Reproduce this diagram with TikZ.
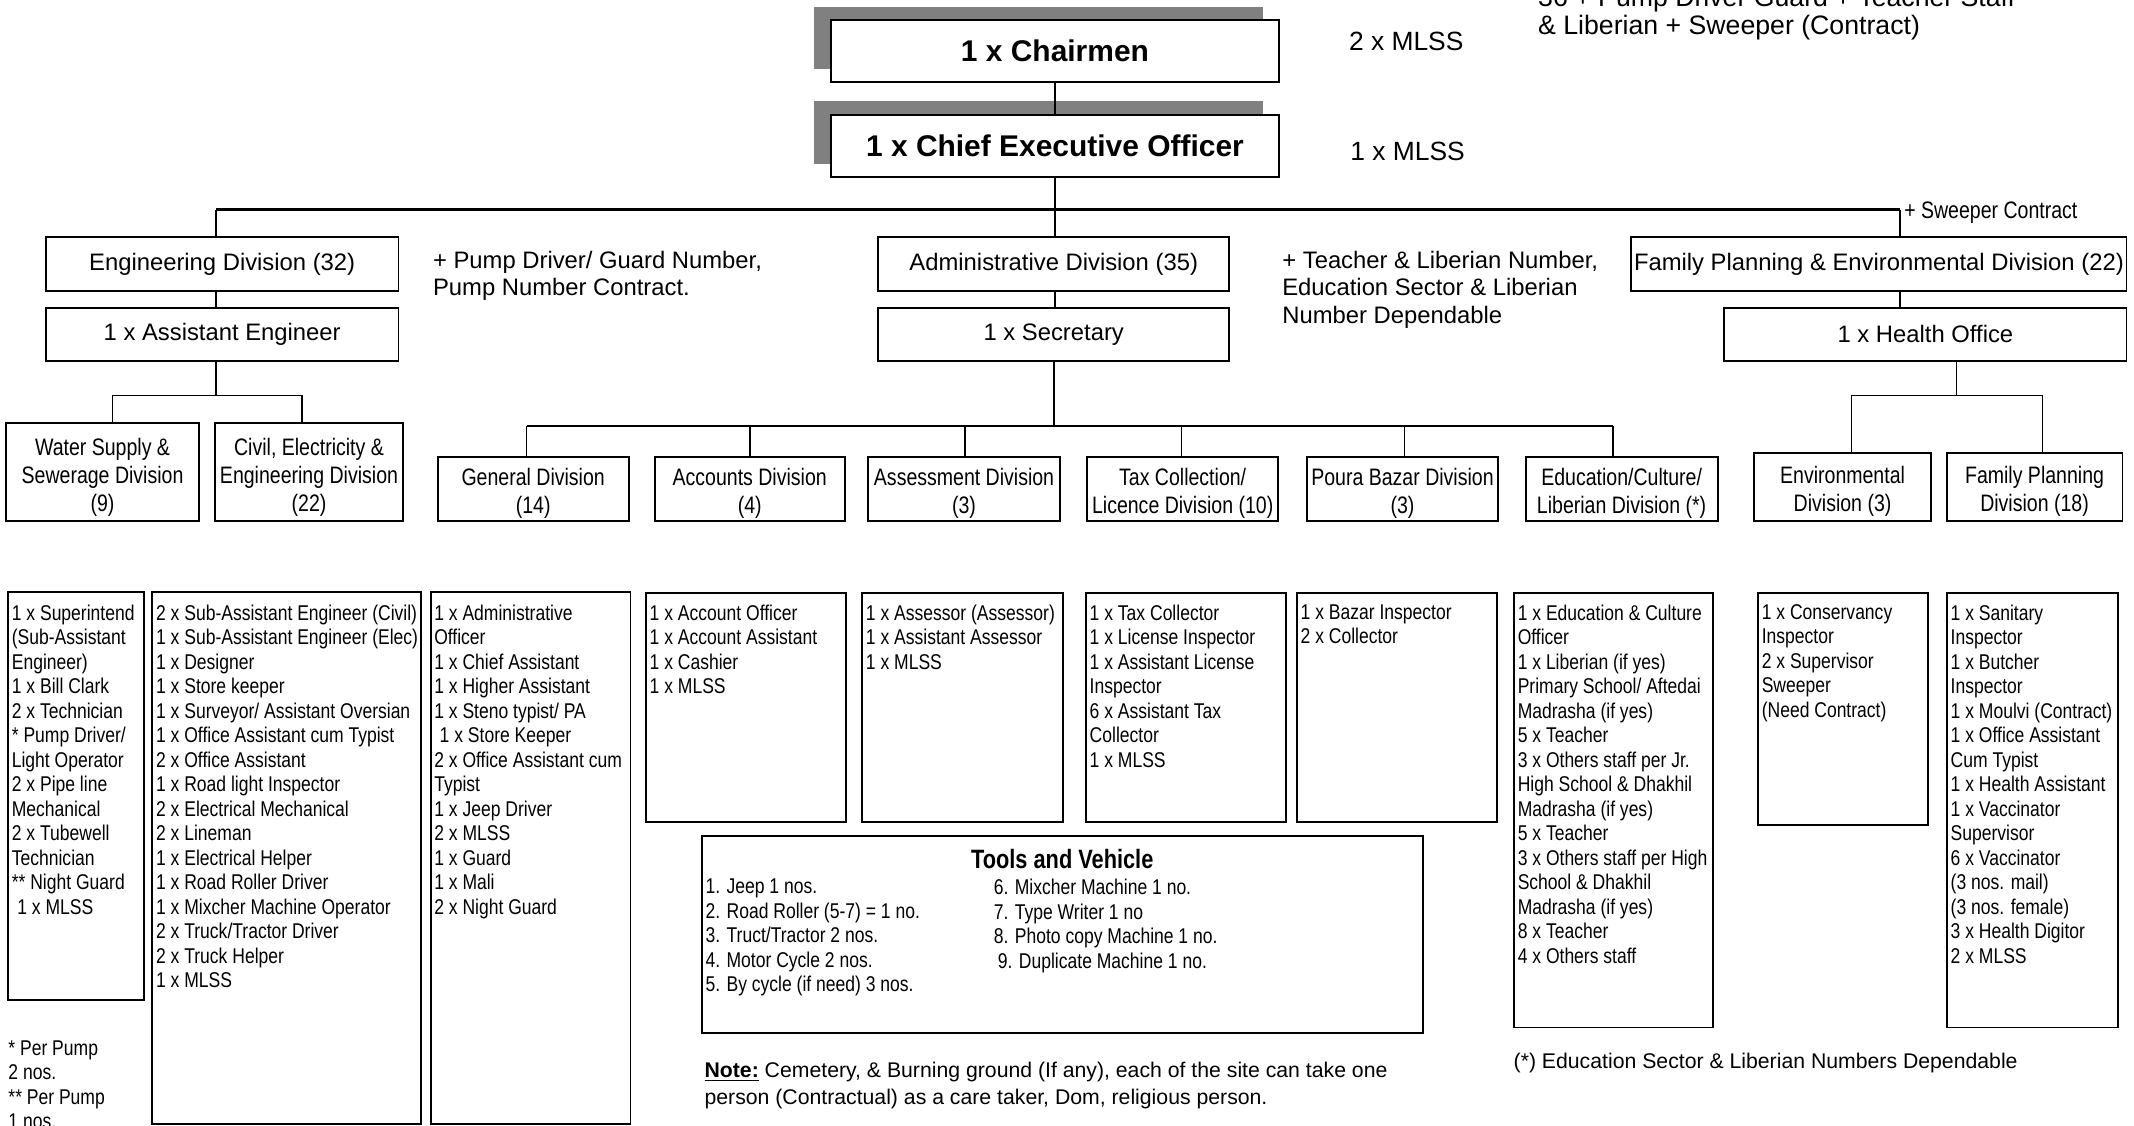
\documentclass[tikz,border=0pt]{standalone}
\usepackage{fontspec}
\setmainfont{Liberation Sans}
\newfontfamily\nar[FakeStretch=0.82]{Liberation Sans}
\newcommand{\mybox}[7][]{\node[box,#1,minimum width={#5-#3},minimum height={#6-#4}] (#2) at ({(#3+#5)/2},{(#4+#6)/2}) {#7};}
\newcommand{\tbox}[7][]{\node[box,minimum width={#5-#3},minimum height={#6-#4}] (#2) at ({(#3+#5)/2},{(#4+#6)/2}) {};
  \node[#1,inner sep=0pt,align=center] (#2t) at ([yshift=-3.5pt]#2.center) {#7};}
\begin{document}
\begin{tikzpicture}[x=1pt,y=-1pt,
 box/.style={draw,line width=1.4pt,inner sep=0pt,align=center,fill=white},
 shadowbox/.style={fill=gray,draw=none},
 hd/.style={font=\fontsize{17.5}{20}\selectfont},
 dv/.style={font=\nar\fontsize{17.5}{20.5}\selectfont},
 ttl/.style={font=\fontsize{22}{26}\selectfont\bfseries},
 lst/.style={font=\nar\fontsize{15.7}{18}\selectfont,align=left,anchor=north west,inner sep=0pt},
 txt/.style={font=\fontsize{17.5}{20}\selectfont,align=left,anchor=north west,inner sep=0pt},
 conn/.style={line width=1.1pt},
]
\useasboundingbox (0,0) rectangle (1568,827);

% top
\mybox[shadowbox]{chairsh}{598}{5.4}{927.8}{51}{}
\mybox[ttl]{chair}{610.3}{14.7}{940}{60.5}{1 x Chairmen}
\mybox[shadowbox]{ceosh}{598}{74.2}{927.8}{120.7}{}
\mybox[ttl]{ceo}{610.3}{84.5}{940}{129.8}{1 x Chief Executive Officer}
\node[txt,font=\fontsize{19.4}{22}\selectfont,anchor=base west] (m1) at (991,37) {2 x MLSS};
\node[txt,font=\fontsize{19.4}{22}\selectfont,anchor=base west] (m2) at (992,118) {1 x MLSS};
\node[txt,font=\fontsize{19.6}{20}\selectfont] (topnote) at (1130,-9.3) {36 + Pump Driver Guard + Teacher Staff\\\& Liberian + Sweeper (Contract)};

% division row
\mybox[hd]{engdiv}{33.7}{174.4}{292.8}{213.8}{Engineering Division (32)}
\mybox[hd]{admdiv}{645.2}{174.4}{903.3}{213.8}{Administrative Division (35)}
\mybox[hd]{fpdiv}{1198.6}{174.4}{1562.5}{213.8}{Family Planning \& Environmental Division (22)}
\mybox[hd]{ae}{33.7}{226.5}{292.8}{265}{1 x Assistant Engineer}
\mybox[hd]{secr}{645.2}{226.5}{903.3}{265}{1 x Secretary}
\mybox[hd]{health}{1266.9}{226.5}{1562.5}{265}{1 x Health Office}

\node[txt] (pumpnote) at (318,184.5) {+ Pump Driver/ Guard Number,\\Pump Number Contract.};
\node[txt] (teachnote) at (942,184.5) {+ Teacher \& Liberian Number,\\Education Sector \& Liberian\\Number Dependable};
\node[txt,font=\nar\fontsize{17.5}{20}\selectfont,anchor=base west] (sweepnote) at (1399,160.3) {+ Sweeper Contract};

% sub divisions
\tbox[dv]{water}{4.7}{311}{146}{383}{Water Supply \&\\Sewerage Division\\(9)}
\tbox[dv]{civil}{157.9}{311}{296.2}{383}{Civil, Electricity \&\\Engineering Division\\(22)}
\tbox[dv]{gen}{321.5}{335.5}{462}{383}{General Division\\(14)}
\tbox[dv]{acc}{481}{335.5}{620.7}{383}{Accounts Division\\(4)}
\tbox[dv]{ass}{638}{335.5}{778.7}{383}{Assessment Division\\(3)}
\tbox[dv]{tax}{799}{335.5}{939}{383}{Tax Collection/\\Licence Division (10)}
\tbox[dv]{bazar}{960}{335.5}{1101}{383}{Poura Bazar Division\\(3)}
\tbox[dv]{edu}{1121}{335.5}{1262}{383}{Education/Culture/\\Liberian Division (*)}
\tbox[dv]{env}{1289}{332.6}{1418.7}{383}{Environmental\\Division (3)}
\tbox[dv]{fpd}{1430.3}{332.6}{1559.5}{383}{Family Planning\\Division (18)}

% connectors top
\draw[conn] (chair.south) -- (ceo.north);
\coordinate (bl) at (158.6,154);
\coordinate (br) at (1396.1,154);
\draw[line width=1.9pt] (bl) -- (br);
\draw[conn] (ceo.south) -- (ceo.south |- admdiv.north);
\draw[conn] (bl) -- (bl |- engdiv.north);
\draw[conn] (br) -- (br |- fpdiv.north);
\draw[conn] (bl |- engdiv.south) -- (bl |- ae.north);
\draw[conn] (ceo.south |- admdiv.south) -- (ceo.south |- secr.north);
\draw[conn] (br |- fpdiv.south) -- (br |- health.north);

% engineering subtree
\coordinate (ej) at (158.6,290.7);
\coordinate (ejl) at (82.7,290.7);
\coordinate (ejr) at (222,290.7);
\draw[conn] (ae.south -| ej) -- (ej);
\draw[conn] (ejl |- water.north) -- (ejl) -- (ejr) -- (ejr |- civil.north);

% admin subtree
\coordinate (aj) at (774.6,313);
\coordinate (a1) at (387,313);
\coordinate (a2) at (551,313);
\coordinate (a3) at (709,313);
\coordinate (a4) at (868,313);
\coordinate (a5) at (1032,313);
\coordinate (a6) at (1185.2,313);
\draw[conn] (secr.south -| aj) -- (aj);
\draw[conn] (a1) -- (a6);
\foreach \c/\b in {a1/gen,a2/acc,a3/ass,a4/tax,a5/bazar,a6/edu}
  \draw[conn] (\c) -- (\c |- \b.north);

% health subtree
\coordinate (hj) at (1437.7,290.7);
\coordinate (hl) at (1360.5,290.7);
\coordinate (hr) at (1500.7,290.7);
\draw[conn] (health.south -| hj) -- (hj);
\draw[conn] (hl |- env.north) -- (hl) -- (hr) -- (hr |- fpd.north);

% list boxes
\mybox{wl}{6}{435}{106}{735}{}
\mybox{cl}{112}{435}{309.5}{826}{}
\mybox{gl}{316.4}{435}{463.3}{826}{}
\mybox{al}{474.7}{435.5}{621.7}{603.7}{}
\mybox{sl}{633.6}{435.5}{781}{603.7}{}
\mybox{tl}{798}{435.5}{945}{603.7}{}
\mybox{bl2}{953}{435.5}{1100}{603.7}{}
\mybox{el}{1112.5}{435.7}{1258.6}{755}{}
\mybox{kl}{1291.8}{435.7}{1416.6}{606}{}
\mybox{nl}{1430.6}{435.7}{1556}{755}{}
\mybox{tools}{515.6}{614.3}{1045.3}{759}{}

\node[lst] (wlt) at (8.5,444) {1 x Superintend\\(Sub-Assistant\\Engineer)\\1 x Bill Clark\\2 x Technician\\* Pump Driver/\\Light Operator\\2 x Pipe line\\Mechanical\\2 x Tubewell\\Technician\\** Night Guard\\\hspace*{4pt}1 x MLSS};
\node[lst] (clt) at (114.5,444) {2 x Sub-Assistant Engineer (Civil)\\1 x Sub-Assistant Engineer (Elec)\\1 x Designer\\1 x Store keeper\\1 x Surveyor/ Assistant Oversian\\1 x Office Assistant cum Typist\\2 x Office Assistant\\1 x Road light Inspector\\2 x Electrical Mechanical\\2 x Lineman\\1 x Electrical Helper\\1 x Road Roller Driver\\1 x Mixcher Machine Operator\\2 x Truck/Tractor Driver\\2 x Truck Helper\\1 x MLSS};
\node[lst] (glt) at (318.9,444) {1 x Administrative\\Officer\\1 x Chief Assistant\\1 x Higher Assistant\\1 x Steno typist/ PA\\\hspace*{4pt}1 x Store Keeper\\2 x Office Assistant cum\\Typist\\1 x Jeep Driver\\2 x MLSS\\1 x Guard\\1 x Mali\\2 x Night Guard};
\node[lst] (alt) at (477.2,444) {1 x Account Officer\\1 x Account Assistant\\1 x Cashier\\1 x MLSS};
\node[lst] (slt) at (636.1,444) {1 x Assessor (Assessor)\\1 x Assistant Assessor\\1 x MLSS};
\node[lst] (tlt) at (800.5,444) {1 x Tax Collector\\1 x License Inspector\\1 x Assistant License\\Inspector\\6 x Assistant Tax\\Collector\\1 x MLSS};
\node[lst] (blt) at (955.5,444) {1 x Bazar Inspector\\2 x Collector};
\node[lst] (elt) at (1115,444) {1 x Education \& Culture\\Officer\\1 x Liberian (if yes)\\Primary School/ Aftedai\\Madrasha (if yes)\\5 x Teacher\\3 x Others staff per Jr.\\High School \& Dhakhil\\Madrasha (if yes)\\5 x Teacher\\3 x Others staff per High\\School \& Dhakhil\\Madrasha (if yes)\\8 x Teacher\\4 x Others staff};
\node[lst] (klt) at (1294.3,444) {1 x Conservancy\\Inspector\\2 x Supervisor\\Sweeper\\(Need Contract)};
\node[lst] (nlt) at (1433.1,444) {1 x Sanitary\\Inspector\\1 x Butcher\\Inspector\\1 x Moulvi (Contract)\\1 x Office Assistant\\Cum Typist\\1 x Health Assistant\\1 x Vaccinator\\Supervisor\\6 x Vaccinator\\(3 nos. mail)\\(3 nos. female)\\3 x Health Digitor\\2 x MLSS};

% tools
\node[font=\nar\fontsize{19.5}{22}\selectfont\bfseries,anchor=base,inner sep=0pt] (toolt) at (780.5,638) {Tools and Vehicle};
\node[lst] (tool1) at (518.2,645.7) {1. Jeep 1 nos.\\2. Road Roller (5-7) = 1 no.\\3. Truct/Tractor 2 nos.\\4. Motor Cycle 2 nos.\\5. By cycle (if need) 3 nos.};
\node[lst] (tool2) at (730,645.7) {6. Mixcher Machine 1 no.\\7. Type Writer 1 no\\8. Photo copy Machine 1 no.\\\hspace*{3pt}9. Duplicate Machine 1 no.};

% notes
\node[lst] (pumpn) at (6,764.3) {* Per Pump\\2 nos.\\** Per Pump\\1 nos.};
\node[txt,font=\fontsize{15.6}{20}\selectfont] (note) at (517.5,780.4) {\underline{\textbf{Note:}} Cemetery, \& Burning ground (If any), each of the site can take one\\person (Contractual) as a care taker, Dom, religious person.};
\node[txt,font=\fontsize{15.6}{20}\selectfont,anchor=base west] (edunote) at (1112,785.4) {(*) Education Sector \& Liberian Numbers Dependable};
\end{tikzpicture}
\end{document}
